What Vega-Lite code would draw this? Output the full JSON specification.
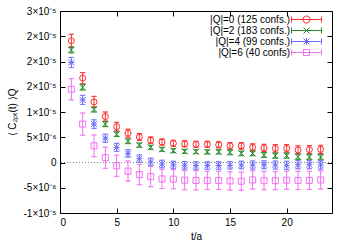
{
  "$schema": "https://vega.github.io/schema/vega-lite/v6.json",
  "width": 272,
  "height": 202,
  "autosize": "none",
  "padding": {"left": 60, "top": 11, "right": 18, "bottom": 32},
  "background": "white",
  "config": {
    "view": {"stroke": "black", "strokeWidth": 1},
    "font": "Liberation Sans",
    "axis": {"grid": false, "domain": false, "tickColor": "black", "tickSize": -5, "labelFont": "Liberation Sans", "labelFontSize": 10, "labelColor": "black", "titleFont": "Liberation Sans", "titleFontSize": 10, "titleFontWeight": "normal", "titleColor": "black"}
  },
  "data": {"values": [
    {"t":1,"q":0,"v":24.1e-6,"e":1.3e-6},{"t":2,"q":0,"v":16.7e-6,"e":1.1e-6},{"t":3,"q":0,"v":12.0e-6,"e":1.1e-6},{"t":4,"q":0,"v":9.1e-6,"e":0.9e-6},{"t":5,"q":0,"v":7.1e-6,"e":0.85e-6},{"t":6,"q":0,"v":5.8e-6,"e":0.8e-6},{"t":7,"q":0,"v":5.05e-6,"e":0.7e-6},{"t":8,"q":0,"v":4.4e-6,"e":0.65e-6},{"t":9,"q":0,"v":4.05e-6,"e":0.6e-6},{"t":10,"q":0,"v":3.8e-6,"e":0.6e-6},{"t":11,"q":0,"v":3.7e-6,"e":0.6e-6},{"t":12,"q":0,"v":3.6e-6,"e":0.6e-6},{"t":13,"q":0,"v":3.6e-6,"e":0.6e-6},{"t":14,"q":0,"v":3.5e-6,"e":0.6e-6},{"t":15,"q":0,"v":3.3e-6,"e":0.65e-6},{"t":16,"q":0,"v":3.3e-6,"e":0.65e-6},{"t":17,"q":0,"v":3.0e-6,"e":0.7e-6},{"t":18,"q":0,"v":2.9e-6,"e":0.7e-6},{"t":19,"q":0,"v":2.8e-6,"e":0.75e-6},{"t":20,"q":0,"v":2.8e-6,"e":0.75e-6},{"t":21,"q":0,"v":2.5e-6,"e":0.8e-6},{"t":22,"q":0,"v":2.55e-6,"e":0.8e-6},{"t":23,"q":0,"v":2.6e-6,"e":0.8e-6},
    {"t":1,"q":2,"v":22.3e-6,"e":0.6e-6},{"t":2,"q":2,"v":14.9e-6,"e":0.55e-6},{"t":3,"q":2,"v":10.5e-6,"e":0.5e-6},{"t":4,"q":2,"v":7.6e-6,"e":0.5e-6},{"t":5,"q":2,"v":5.6e-6,"e":0.45e-6},{"t":6,"q":2,"v":4.2e-6,"e":0.45e-6},{"t":7,"q":2,"v":3.45e-6,"e":0.4e-6},{"t":8,"q":2,"v":3.0e-6,"e":0.4e-6},{"t":9,"q":2,"v":2.6e-6,"e":0.4e-6},{"t":10,"q":2,"v":2.35e-6,"e":0.4e-6},{"t":11,"q":2,"v":2.2e-6,"e":0.4e-6},{"t":12,"q":2,"v":2.15e-6,"e":0.4e-6},{"t":13,"q":2,"v":2.1e-6,"e":0.4e-6},{"t":14,"q":2,"v":2.1e-6,"e":0.4e-6},{"t":15,"q":2,"v":2.0e-6,"e":0.45e-6},{"t":16,"q":2,"v":1.8e-6,"e":0.45e-6},{"t":17,"q":2,"v":1.8e-6,"e":0.45e-6},{"t":18,"q":2,"v":1.5e-6,"e":0.5e-6},{"t":19,"q":2,"v":1.35e-6,"e":0.5e-6},{"t":20,"q":2,"v":1.35e-6,"e":0.5e-6},{"t":21,"q":2,"v":1.15e-6,"e":0.55e-6},{"t":22,"q":2,"v":1.1e-6,"e":0.55e-6},{"t":23,"q":2,"v":1.05e-6,"e":0.55e-6},
    {"t":1,"q":4,"v":19.8e-6,"e":1.0e-6},{"t":2,"q":4,"v":12.4e-6,"e":0.9e-6},{"t":3,"q":4,"v":7.6e-6,"e":0.85e-6},{"t":4,"q":4,"v":4.8e-6,"e":0.8e-6},{"t":5,"q":4,"v":3.0e-6,"e":0.8e-6},{"t":6,"q":4,"v":1.8e-6,"e":0.75e-6},{"t":7,"q":4,"v":0.75e-6,"e":0.75e-6},{"t":8,"q":4,"v":0.1e-6,"e":0.75e-6},{"t":9,"q":4,"v":-0.3e-6,"e":0.75e-6},{"t":10,"q":4,"v":-0.5e-6,"e":0.75e-6},{"t":11,"q":4,"v":-0.55e-6,"e":0.75e-6},{"t":12,"q":4,"v":-0.6e-6,"e":0.75e-6},{"t":13,"q":4,"v":-0.6e-6,"e":0.75e-6},{"t":14,"q":4,"v":-0.6e-6,"e":0.75e-6},{"t":15,"q":4,"v":-0.55e-6,"e":0.75e-6},{"t":16,"q":4,"v":-0.5e-6,"e":0.75e-6},{"t":17,"q":4,"v":-0.5e-6,"e":0.8e-6},{"t":18,"q":4,"v":-0.45e-6,"e":0.8e-6},{"t":19,"q":4,"v":-0.5e-6,"e":0.8e-6},{"t":20,"q":4,"v":-0.55e-6,"e":0.8e-6},{"t":21,"q":4,"v":-0.45e-6,"e":0.8e-6},{"t":22,"q":4,"v":-0.45e-6,"e":0.8e-6},{"t":23,"q":4,"v":-0.5e-6,"e":0.8e-6},
    {"t":1,"q":6,"v":14.5e-6,"e":2.1e-6},{"t":2,"q":6,"v":7.6e-6,"e":2.2e-6},{"t":3,"q":6,"v":3.3e-6,"e":2.15e-6},{"t":4,"q":6,"v":0.95e-6,"e":2.1e-6},{"t":5,"q":6,"v":-0.65e-6,"e":2.1e-6},{"t":6,"q":6,"v":-1.7e-6,"e":2.0e-6},{"t":7,"q":6,"v":-2.4e-6,"e":2.0e-6},{"t":8,"q":6,"v":-2.8e-6,"e":2.0e-6},{"t":9,"q":6,"v":-3.25e-6,"e":1.9e-6},{"t":10,"q":6,"v":-3.3e-6,"e":1.9e-6},{"t":11,"q":6,"v":-3.5e-6,"e":1.9e-6},{"t":12,"q":6,"v":-3.55e-6,"e":1.9e-6},{"t":13,"q":6,"v":-3.55e-6,"e":1.8e-6},{"t":14,"q":6,"v":-3.55e-6,"e":1.8e-6},{"t":15,"q":6,"v":-3.65e-6,"e":1.8e-6},{"t":16,"q":6,"v":-3.7e-6,"e":1.8e-6},{"t":17,"q":6,"v":-3.45e-6,"e":1.8e-6},{"t":18,"q":6,"v":-3.6e-6,"e":1.8e-6},{"t":19,"q":6,"v":-3.6e-6,"e":1.8e-6},{"t":20,"q":6,"v":-3.5e-6,"e":1.8e-6},{"t":21,"q":6,"v":-3.55e-6,"e":1.8e-6},{"t":22,"q":6,"v":-3.55e-6,"e":1.8e-6},{"t":23,"q":6,"v":-3.45e-6,"e":1.8e-6}
  ]},
  "layer": [
    {
      "mark": {"type": "point", "filled": false, "strokeWidth": 1, "size": 36, "opacity": 1},
      "encoding": {
        "x": {"field": "t", "type": "quantitative", "title": "t/a",
              "scale": {"domain": [0, 24], "nice": false},
              "axis": {"values": [0, 5, 10, 15, 20], "labelPadding": 9, "titlePadding": 4}},
        "y": {"field": "v", "type": "quantitative", "title": "⟨ C₂ₚₜ(t) ⟩Q",
              "scale": {"domain": [-1e-5, 3e-5], "nice": false},
              "axis": {"values": [-1e-5, -5e-6, 0, 5e-6, 1e-5, 1.5e-5, 2e-5, 2.5e-5, 3e-5], "labelPadding": 9, "titlePadding": 6,
                       "labelExpr": "['-1×10⁻⁵','-5×10⁻⁶','0','5×10⁻⁶','1×10⁻⁵','2×10⁻⁵','2×10⁻⁵','2×10⁻⁵','3×10⁻⁵'][round(datum.value*2e5)+2]"}},
        "stroke": {"field": "q", "type": "nominal", "legend": null,
                   "scale": {"domain": [0, 2, 4, 6], "range": ["#ff2a2a", "#2a8a2a", "#6a6aff", "#f070f0"]}},
        "shape": {"field": "q", "type": "nominal", "legend": null,
                  "scale": {"domain": [0, 2, 4, 6], "range": ["circle", "M-1,-1L1,1M-1,1L1,-1", "M-1,-1L1,1M-1,1L1,-1M-1,0H1M0,-1V1", "square"]}}
      }
    },
    {
      "mark": {"type": "rule", "color": "#888888", "strokeDash": [1, 2], "strokeWidth": 1},
      "encoding": {"y": {"datum": 0, "type": "quantitative", "axis": null}}
    },
    {
      "mark": {"type": "errorbar", "ticks": {"size": 5, "filled": false, "thickness": 0.1, "strokeWidth": 1}, "rule": {"strokeWidth": 1}},
      "encoding": {
        "x": {"field": "t", "type": "quantitative", "axis": null},
        "y": {"field": "v", "type": "quantitative", "axis": null},
        "yError": {"field": "e"},
        "stroke": {"field": "q", "type": "nominal", "legend": null,
                   "scale": {"domain": [0, 2, 4, 6], "range": ["#ff2a2a", "#2a8a2a", "#6a6aff", "#f070f0"]}}
      }
    },
    {
      "mark": {"type": "point", "opacity": 0, "filled": false},
      "encoding": {
        "x": {"field": "t", "type": "quantitative", "axis": {"orient": "top", "values": [0, 5, 10, 15, 20], "labels": false, "title": null}},
        "y": {"field": "v", "type": "quantitative", "axis": {"orient": "right", "values": [-1e-5, -5e-6, 0, 5e-6, 1e-5, 1.5e-5, 2e-5, 2.5e-5, 3e-5], "labels": false, "title": null}},
        "stroke": {"field": "q", "type": "nominal",
                   "scale": {"domain": [0, 2, 4, 6], "range": ["#ff2a2a", "#2a8a2a", "#6a6aff", "#f070f0"]},
                   "legend": {"orient": "none", "legendX": 241, "legendY": 3, "title": null, "padding": 0,
                              "labelAlign": "right", "labelOffset": -22, "labelFontSize": 10, "labelFont": "Liberation Sans", "labelColor": "black",
                              "symbolSize": 100, "symbolStrokeWidth": 1, "symbolOpacity": 1, "symbolFillColor": "transparent", "rowPadding": -6,
                              "labelExpr": "['|Q|=0 (125 confs.)','|Q|=2 (183 confs.)','|Q|=4 (99 confs.)','|Q|=6 (40 confs)'][datum.index]"}},
        "shape": {"field": "q", "type": "nominal",
                  "scale": {"domain": [0, 2, 4, 6], "range": ["M-3,0H3M-3,-0.6V0.6M3,-0.6V0.6M0.7,0A0.7,0.7 0 1 1 -0.7,0A0.7,0.7 0 1 1 0.7,0", "M-3,0H3M-3,-0.6V0.6M3,-0.6V0.6M-0.6,-0.6L0.6,0.6M-0.6,0.6L0.6,-0.6", "M-3,0H3M-3,-0.6V0.6M3,-0.6V0.6M-0.6,-0.6L0.6,0.6M-0.6,0.6L0.6,-0.6M0,-0.7V0.7", "M-3,0H3M-3,-0.6V0.6M3,-0.6V0.6M-0.6,-0.6H0.6V0.6H-0.6Z"]},
                  "legend": {"orient": "none", "legendX": 241, "legendY": 3, "title": null, "padding": 0,
                             "labelAlign": "right", "labelOffset": -22, "labelFontSize": 10, "labelFont": "Liberation Sans", "labelColor": "black",
                             "symbolSize": 100, "symbolStrokeWidth": 1, "symbolOpacity": 1, "symbolFillColor": "transparent", "rowPadding": -6,
                             "labelExpr": "['|Q|=0 (125 confs.)','|Q|=2 (183 confs.)','|Q|=4 (99 confs.)','|Q|=6 (40 confs)'][datum.index]"}}
      }
    }
  ],
  "resolve": {"axis": {"x": "independent", "y": "independent"}, "scale": {"shape": "independent", "stroke": "independent"}}
}
